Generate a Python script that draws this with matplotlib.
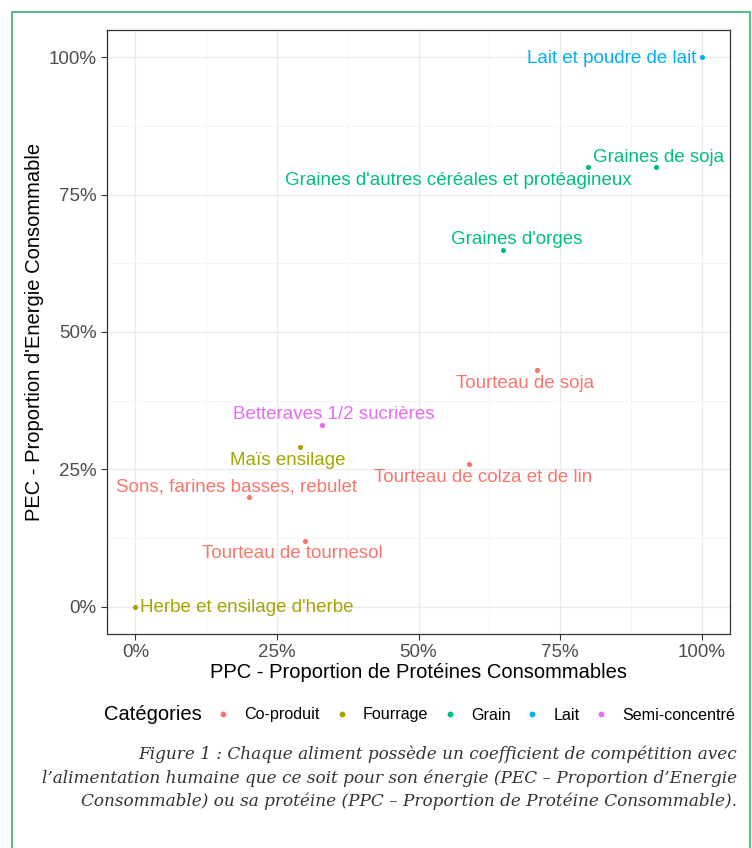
import matplotlib
matplotlib.use("Agg")
import matplotlib.pyplot as plt
from matplotlib.lines import Line2D
from matplotlib.patches import Rectangle
from matplotlib.ticker import PercentFormatter, MultipleLocator

plt.rcParams['font.family'] = ['Liberation Sans', 'DejaVu Sans']

# --- data ---
aliments = ["Lait et poudre de lait", "Graines de soja",
            "Graines d'autres céréales et protéagineux", "Graines d'orges",
            "Tourteau de soja", "Betteraves 1/2 sucrières", "Maïs ensilage",
            "Tourteau de colza et de lin", "Sons, farines basses, rebulet",
            "Tourteau de tournesol", "Herbe et ensilage d'herbe"]
categorie = ["Lait", "Grain", "Grain", "Grain", "Co-produit", "Semi-concentré",
             "Fourrage", "Co-produit", "Co-produit", "Co-produit", "Fourrage"]
ppc = [1.00, 0.92, 0.80, 0.65, 0.71, 0.33, 0.29, 0.59, 0.20, 0.30, 0.00]
pec = [1.00, 0.80, 0.80, 0.65, 0.43, 0.33, 0.29, 0.26, 0.20, 0.12, 0.00]

categories = ["Co-produit", "Fourrage", "Grain", "Lait", "Semi-concentré"]
couleurs = ["#F8766D", "#A3A500", "#00BF7D", "#00B0F6", "#E76BF3"]
col = dict(zip(categories, couleurs))

# label offsets (pixels) as placed by the repel step
offsets = [(-90, -1), (2, 10), (-130, -13), (13, 10), (-12, -13), (12, 11),
           (-12, -13), (14, -14), (-12, 10), (-13, -13), (5, -1)]

fig = plt.figure(figsize=(7.52, 8.48), dpi=100)
ax = fig.add_axes([107/752, 1-634/848, 623/752, 604/848])

for c in categories:
    xs = [p for p, k in zip(ppc, categorie) if k == c]
    ys = [e for e, k in zip(pec, categorie) if k == c]
    ax.scatter(xs, ys, s=14, color=col[c], zorder=3, linewidths=0)

for nom, k, x, y, off in zip(aliments, categorie, ppc, pec, offsets):
    ha = 'left' if nom.startswith("Herbe") else 'center'
    ax.annotate(nom, (x, y), xytext=off, textcoords='offset pixels',
                ha=ha, va='center', fontsize=13.5, color=col[k], zorder=4)

ax.set_xlim(-0.05, 1.05)
ax.set_ylim(-0.05, 1.05)
ax.xaxis.set_major_locator(MultipleLocator(0.25))
ax.yaxis.set_major_locator(MultipleLocator(0.25))
ax.xaxis.set_minor_locator(MultipleLocator(0.125))
ax.yaxis.set_minor_locator(MultipleLocator(0.125))
ax.xaxis.set_major_formatter(PercentFormatter(1.0, decimals=0))
ax.yaxis.set_major_formatter(PercentFormatter(1.0, decimals=0))
ax.grid(which='major', color='#EBEBEB', lw=1.0)
ax.grid(which='minor', color='#F4F4F4', lw=0.6)
ax.set_axisbelow(True)
ax.tick_params(which='major', length=4, color='#333333', labelsize=13.5,
               labelcolor='#4D4D4D', width=0.8)
ax.tick_params(which='minor', length=0)
for s in ax.spines.values():
    s.set_color('#333333')
    s.set_linewidth(0.9)

ax.set_xlabel("PPC - Proportion de Protéines Consommables", fontsize=14.5, labelpad=1)
ax.set_ylabel("PEC - Proportion d'Energie Consommable", fontsize=14.5, labelpad=3)

# legend
fig.text(104/752, 1-715/848, "Catégories", fontsize=14.5, va='center', ha='left')
handles = [Line2D([], [], ls='none', marker='o', ms=4.2, mec='none', color=c)
           for c in couleurs]
fig.legend(handles, categories, loc='center left', ncol=5,
           bbox_to_anchor=(217/752, 1-715/848), frameon=False, fontsize=11.6,
           handlelength=0.8, handletextpad=0.9, columnspacing=0.96, borderpad=0,
           borderaxespad=0)

# caption
caption = ("Figure 1 : Chaque aliment possède un coefficient de compétition avec\n"
           "l\u2019alimentation humaine que ce soit pour son énergie (PEC \u2013 Proportion d\u2019Energie\n"
           "Consommable) ou sa protéine (PPC \u2013 Proportion de Protéine Consommable).")
fig.text(737/752, 1-778/848, caption, family='DejaVu Serif', style='italic',
         fontsize=12.2, color='#333333', ha='right', va='center', ma='right',
         linespacing=1.43)

# green frame
fig.patches.append(Rectangle((12/752, -0.05), 738/752, 1-12/848+0.05,
                             transform=fig.transFigure, fill=False,
                             edgecolor='#5DBB8A', lw=1.5))

fig.savefig("out.png", dpi=100)
